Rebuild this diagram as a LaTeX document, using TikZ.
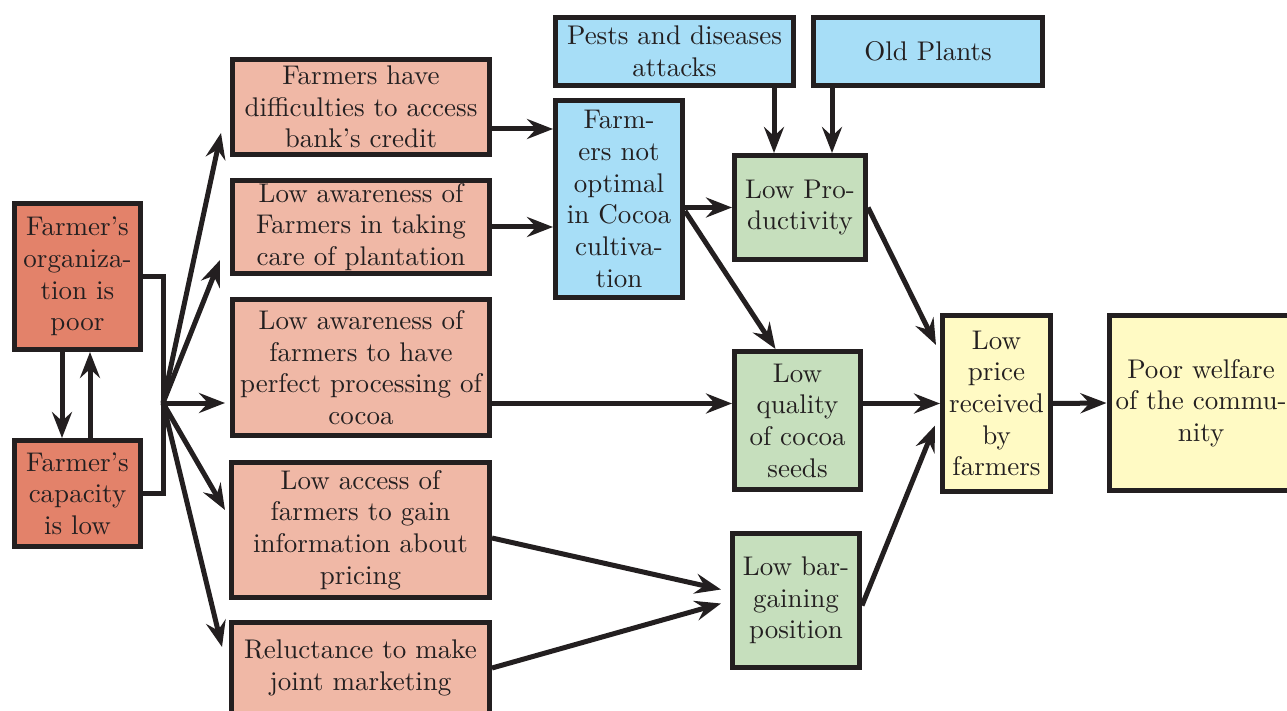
\documentclass[tikz,border=0pt]{standalone}
\usepackage{fontspec}
\setmainfont{lmroman10-regular.otf}
\usetikzlibrary{arrows.meta}
\definecolor{ink}{HTML}{231F20}
\definecolor{cdark}{HTML}{E3826A}
\definecolor{cpink}{HTML}{F0B8A6}
\definecolor{cblue}{HTML}{A7DEF7}
\definecolor{cgreen}{HTML}{C6DFBD}
\definecolor{cyel}{HTML}{FFFAC4}
\begin{document}
\begin{tikzpicture}[x=1pt,y=-1pt,
  box/.style={draw=ink, line width=5pt, inner sep=0pt, align=center,
    font=\fontsize{27}{31.7}\selectfont, text=ink},
  conn/.style={draw=ink, line width=5pt},
  arr/.style={conn, -{Stealth[length=26pt,width=20pt,inset=9pt]}}]
\useasboundingbox (0,0) rectangle (1287,711);
\clip (0,0) rectangle (1287,711);
% left column
\node[box, fill=cdark, minimum width=126, minimum height=146] (A) at (77.5,276.5) {Farmer’s\\organiza-\\tion is\\poor};
\node[box, fill=cdark, minimum width=126, minimum height=106] (B) at (77.5,493.5) {Farmer’s\\capacity\\is low};
% pink column
\node[box, fill=cpink, minimum width=257, minimum height=95] (P1) at (361,107) {Farmers have\\difficulties to access\\bank’s credit};
\node[box, fill=cpink, minimum width=257, minimum height=93] (P2) at (361,227) {Low awareness of\\Farmers in taking\\care of plantation};
\node[box, fill=cpink, minimum width=257, minimum height=136] (P3) at (361,367.5) {Low awareness of\\farmers to have\\perfect processing of\\cocoa};
\node[box, fill=cpink, minimum width=258, minimum height=135] (P4) at (360.5,530) {Low access of\\farmers to gain\\information about\\pricing};
\node[box, fill=cpink, minimum width=258, minimum height=91] (P5) at (360.5,668) {Reluctance to make\\joint marketing};
% blue
\node[box, fill=cblue, minimum width=238, minimum height=68] (Pe) at (674.5,51.5) {Pests and diseases\\attacks};
\node[box, fill=cblue, minimum width=229, minimum height=68] (Ol) at (928,51.5) {Old Plants};
\node[box, fill=cblue, minimum width=127, minimum height=197] (FN) at (619,199) {Farm-\\ers not\\optimal\\in Cocoa\\cultiva-\\tion};
% green
\node[box, fill=cgreen, minimum width=131, minimum height=104] (LP) at (800,207.5) {Low Pro-\\ductivity};
\node[box, fill=cgreen, minimum width=126, minimum height=138] (LQ) at (797.5,420.5) {Low\\quality\\of cocoa\\seeds};
\node[box, fill=cgreen, minimum width=127, minimum height=134] (LB) at (796,600.5) {Low bar-\\gaining\\position};
% yellow
\node[box, fill=cyel, minimum width=108, minimum height=176] (LR) at (996.5,403.5) {Low\\price\\received\\by\\farmers};
\node[box, fill=cyel, minimum width=184, minimum height=175] (PW) at (1201,403) {Poor welfare\\of the commu-\\nity};
% left connectors
\draw[arr] ([xshift=-15.5pt]A.south) -- ([xshift=-15.5pt]B.north);
\draw[arr] ([xshift=12.5pt]B.north) -- ([xshift=12.5pt]A.south);
\coordinate (fan) at (163,403);
\draw[conn, line join=miter] (A.east) -| (fan |- B.east) -- (B.east);
\coordinate (t1) at (221,133);
\coordinate (t2) at (220,260);
\coordinate (t3) at (225,403);
\coordinate (t4) at (225,510);
\coordinate (t5) at (222,647);
\foreach \t in {t1,t2,t3,t4,t5} \draw[arr] (fan) -- (\t);
% pink to blue
\coordinate (p1o) at ([yshift=-22pt]P1.east);
\draw[arr] (p1o) -- (p1o -| FN.west);
\draw[arr] (P2.east) -- (P2.east -| FN.west);
% FN outputs
\draw[arr] (LP.west -| FN.east) -- (LP.west);
\draw[arr] ([yshift=-12pt]FN.east) -- ([xshift=-22pt]LQ.north);
% pests / old
\coordinate (lpa) at ([xshift=-26pt]LP.north);
\coordinate (lpb) at ([xshift=32pt]LP.north);
\draw[arr] (lpa |- Pe.south) -- (lpa);
\draw[arr] (lpb |- Ol.south) -- (lpb);
% to price
\draw[arr] (LP.east) -- ([xshift=-4pt,yshift=-32pt]LR.north west);
\draw[arr] (P3.east |- LR.west) -- (LQ.west |- LR.west);
\draw[arr] (LQ.east |- LR.west) -- (LR.west);
\draw[arr] (LR.east) -- (PW.west);
% bargaining
\draw[arr] ([yshift=-8pt]P4.east) -- ([xshift=-9pt,yshift=11pt]LB.west);
\draw[arr] (P5.east) -- ([xshift=-9pt,yshift=-3pt]LB.west);
\draw[arr] ([yshift=-5pt]LB.east) -- ([xshift=-5pt,yshift=-22pt]LR.west);
\end{tikzpicture}
\end{document}
